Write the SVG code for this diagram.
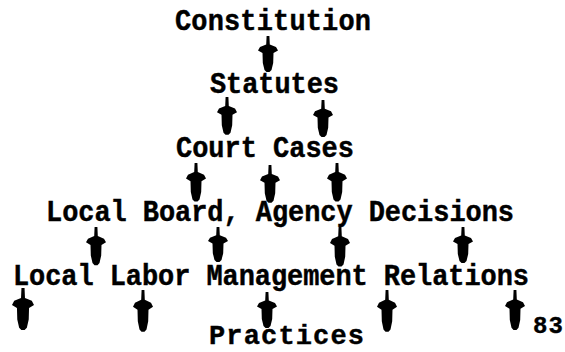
<svg xmlns="http://www.w3.org/2000/svg" xmlns:xlink="http://www.w3.org/1999/xlink" width="565" height="352" viewBox="0 0 565 352">
  <style>
    .lbl { font-family: "Liberation Mono", "Courier New", monospace; font-weight: bold; font-size: 27px; fill: #000; stroke: #000; stroke-width: 0.4px; }
    .num { font-family: "Liberation Mono", "Courier New", monospace; font-weight: bold; font-size: 24px; fill: #000; stroke: #000; stroke-width: 0.4px; }
    .arr { fill: #000; }
  </style>
  <defs>
    <!-- typewriter-style down arrow: thin stem, flared shoulders, heavy body -->
    <path id="arrow" class="arr" d="M -1.4,0 L 1.4,0 L 1.8,8.5 L 8,11 L 10,14.5 L 5.5,17 L 5.2,27 L 3.5,34 L 1.5,36 L -1.5,36 L -3.5,34 L -5.2,27 L -5.5,17 L -10,14.5 L -8,11 L -1.8,8.5 Z"/>
  </defs>
  <rect width="565" height="352" fill="#fff"/>

  <g id="constitution"><text class="lbl" transform="translate(175,30) scale(1,1.06)" textLength="196" lengthAdjust="spacing">Constitution</text></g>
  <g id="statutes"><text class="lbl" transform="translate(210,93) scale(1,1.06)" textLength="129" lengthAdjust="spacing">Statutes</text></g>
  <g id="court-cases"><text class="lbl" transform="translate(176,157) scale(1,1.06)" textLength="178" lengthAdjust="spacing">Court Cases</text></g>
  <g id="decisions"><text class="lbl" transform="translate(46,221) scale(1,1.06)" textLength="468" lengthAdjust="spacing">Local Board, Agency Decisions</text></g>
  <g id="relations"><text class="lbl" transform="translate(13,285) scale(1,1.06)" textLength="516" lengthAdjust="spacing">Local Labor Management Relations</text></g>
  <g id="practices"><text class="lbl" transform="translate(209,344) scale(1,1.0)" textLength="155" lengthAdjust="spacing">Practices</text></g>
  <g id="page-number"><text class="num" transform="translate(533,333)" textLength="30" lengthAdjust="spacing">83</text></g>

  <g id="connectors">
    <use xlink:href="#arrow" transform="translate(268,36) scale(1,1)"/>
    <use xlink:href="#arrow" transform="translate(227,97) scale(1,1.05)"/>
    <use xlink:href="#arrow" transform="translate(323,100) scale(1,1.03)"/>
    <use xlink:href="#arrow" transform="translate(196,163) scale(1,1.07)"/>
    <use xlink:href="#arrow" transform="translate(270,165) scale(1,1.05)"/>
    <use xlink:href="#arrow" transform="translate(337,163) scale(1,1.07)"/>
    <use xlink:href="#arrow" transform="translate(96,227) scale(1,1.06)"/>
    <use xlink:href="#arrow" transform="translate(218,227) scale(1,0.97)"/>
    <use xlink:href="#arrow" transform="translate(340,227) scale(1,1.1)"/>
    <use xlink:href="#arrow" transform="translate(463,227) scale(1,1.0)"/>
    <use xlink:href="#arrow" transform="translate(23,288) scale(1.1,1.17)"/>
    <use xlink:href="#arrow" transform="translate(143,290) scale(1,1.16)"/>
    <use xlink:href="#arrow" transform="translate(267,292) scale(1,1.0)"/>
    <use xlink:href="#arrow" transform="translate(387,290) scale(1,1.16)"/>
    <use xlink:href="#arrow" transform="translate(515,290) scale(1,1.11)"/>
  </g>
</svg>
